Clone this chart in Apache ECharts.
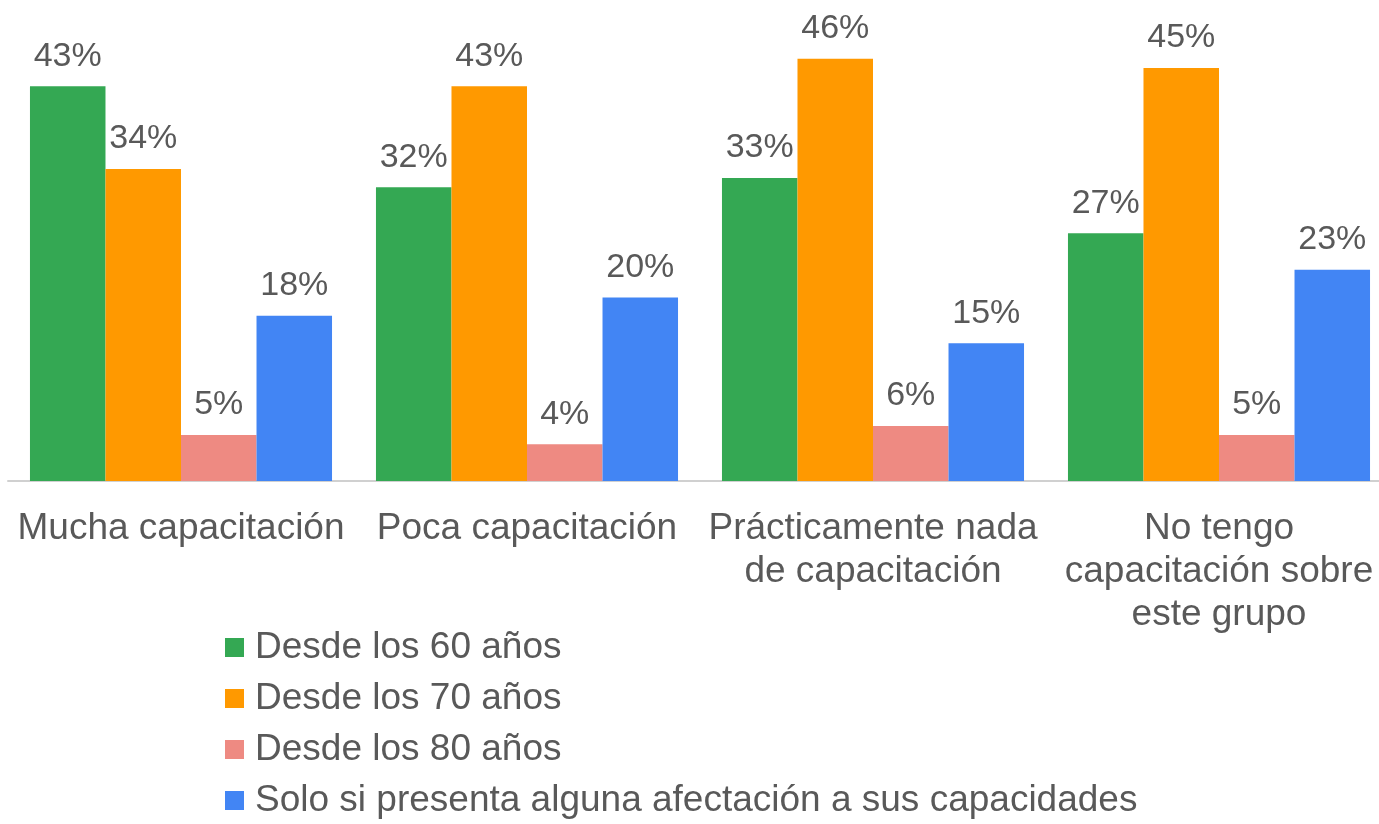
<!DOCTYPE html>
<html>
<head>
<meta charset="utf-8">
<script src="https://cdn.jsdelivr.net/npm/echarts@6/dist/echarts.min.js"></script>
<style>
  html, body { margin: 0; padding: 0; background: #fff; }
  #main { width: 1379px; height: 824px; }
</style>
</head>
<body>
<div id="main"></div>
<script>
// categorias y valores (%)
var categories = [
  "Mucha capacitación",
  "Poca capacitación",
  "Prácticamente nada\nde capacitación",
  "No tengo\ncapacitación sobre\neste grupo"
];
var seriesNames = [
  "Desde los 60 años",
  "Desde los 70 años",
  "Desde los 80 años",
  "Solo si presenta alguna afectación a sus capacidades"
];
var desde60 = [43, 32, 33, 27];
var desde70 = [34, 43, 46, 45];
var desde80 = [5, 4, 6, 5];
var soloSi = [18, 20, 15, 23];

var colors = ["#34a853", "#ff9900", "#ee8a82", "#4285f4"];
var textColor = "#595959";
var font = "'Liberation Sans', Arial, sans-serif";

var chart = echarts.init(document.getElementById("main"));

function makeSeries(name, data) {
  return {
    name: name,
    type: "bar",
    data: data,
    barGap: "0%",
    barCategoryGap: "12.7%",
    label: {
      show: true,
      position: "top",
      distance: 13,
      formatter: "{c}%",
      color: textColor,
      fontSize: 34,
      fontFamily: font
    }
  };
}

var option = {
  color: colors,
  animation: false,
  grid: {
    left: 8,
    right: -13,
    top: 22,
    bottom: 343,
    containLabel: false,
    outerBoundsMode: "none"
  },
  legend: {
    orient: "vertical",
    left: 225,
    top: 629,
    height: 195,
    padding: 0,
    itemWidth: 19,
    itemHeight: 19,
    itemGap: 14,
    icon: "rect",
    data: seriesNames,
    textStyle: {
      color: textColor,
      fontSize: 37,
      fontFamily: font,
      lineHeight: 37,
      padding: [0, 0, 0, 6]
    }
  },
  xAxis: {
    type: "category",
    data: categories,
    axisTick: { show: false },
    axisLine: { lineStyle: { color: "#d0d0d0", width: 2 } },
    axisLabel: {
      color: textColor,
      fontSize: 37,
      fontFamily: font,
      lineHeight: 43,
      margin: 26,
      interval: 0
    }
  },
  yAxis: {
    type: "value",
    min: 0,
    max: 50,
    show: false,
    splitLine: { show: false }
  },
  series: [
    makeSeries(seriesNames[0], desde60),
    makeSeries(seriesNames[1], desde70),
    makeSeries(seriesNames[2], desde80),
    makeSeries(seriesNames[3], soloSi)
  ]
};

chart.setOption(option);
</script>
</body>
</html>
